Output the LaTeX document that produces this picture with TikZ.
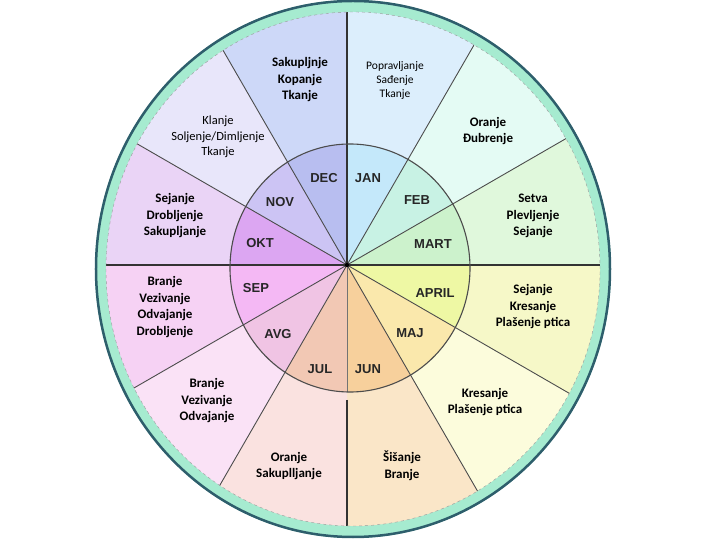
\documentclass[tikz,border=0pt]{standalone}
\usepackage{fontspec}
\newfontfamily\workfont{Carlito}
\newfontfamily\monthfont{Liberation Sans}

\definecolor{ringgreen}{HTML}{A6EBD0}
\definecolor{ringedge}{HTML}{2E5E6C}
% outer (work) wedges
\definecolor{janout}{HTML}{DCEEFC}
\definecolor{febout}{HTML}{E4FBF4}
\definecolor{martout}{HTML}{E0F8DC}
\definecolor{aprout}{HTML}{F6F8C8}
\definecolor{majout}{HTML}{FCFCDC}
\definecolor{junout}{HTML}{FAE6C8}
\definecolor{julout}{HTML}{FAE2E0}
\definecolor{avgout}{HTML}{FAE2F6}
\definecolor{sepout}{HTML}{F6D2F4}
\definecolor{oktout}{HTML}{EAD4F6}
\definecolor{novout}{HTML}{E8E6FA}
\definecolor{decout}{HTML}{CDD8F8}
% inner (month) wedges
\definecolor{janin}{HTML}{C4E8FA}
\definecolor{febin}{HTML}{C8F2E4}
\definecolor{martin}{HTML}{CCF2CC}
\definecolor{aprin}{HTML}{EEF8A4}
\definecolor{majin}{HTML}{FAE8AC}
\definecolor{junin}{HTML}{F7D09C}
\definecolor{julin}{HTML}{F2C8B4}
\definecolor{avgin}{HTML}{F0C4E4}
\definecolor{sepin}{HTML}{F4B8F4}
\definecolor{oktin}{HTML}{DCA6F2}
\definecolor{novin}{HTML}{CCC4F4}
\definecolor{decin}{HTML}{B8BEF0}

\tikzset{
  month/.style={font=\monthfont\bfseries\fontsize{13}{15}\selectfont, text=black!85},
  work/.style={align=center, font=\workfont\bfseries\fontsize{13}{16.5}\selectfont},
  worklight/.style={align=center, font=\workfont\fontsize{12.5}{15.5}\selectfont},
  ray/.style={draw=black!70, line width=0.9pt},
  axis/.style={draw=black!80, line width=1.4pt},
}

\begin{document}
\begin{tikzpicture}[x=1pt,y=1pt]
    \useasboundingbox (-347,-275) rectangle (373,265);

    % Ring
    \fill[ringgreen] (6,-4) ellipse [x radius=258, y radius=269];
    \draw[ringedge, line width=2.5pt] (6,-4) ellipse [x radius=257, y radius=268];

    \begin{scope}
        \clip (6,-4) ellipse [x radius=247, y radius=257];
        % Outer wedges
        \foreach \a/\col in {60/janout, 30/febout, 0/martout, -30/aprout,
                             -60/majout, -90/junout, -120/julout, -150/avgout,
                             180/sepout, 150/oktout, 120/novout, 90/decout}
            \fill[\col] (0,0) -- (\a:420) arc[start angle=\a, end angle=\a+30, radius=420] -- cycle;

        % Inner wedges
        \begin{scope}
            \clip (3,-3) ellipse [x radius=120, y radius=124];
            \foreach \a/\col in {60/janin, 30/febin, 0/martin, -30/aprin,
                                 -60/majin, -90/junin, -120/julin, -150/avgin,
                                 180/sepin, 150/oktin, 120/novin, 90/decin}
                \fill[\col] (0,0) -- (\a:420) arc[start angle=\a, end angle=\a+30, radius=420] -- cycle;
        \end{scope}

        % Dividing lines
        \foreach \a in {30,60,120,150,210,240,300,330}
            \draw[ray] (0,0) -- (\a:320);
        \draw[axis] (-320,0) -- (320,0);
        \draw[axis] (0,0) -- (0,320);
        \draw[axis] (0,-135) -- (0,-320);
        \draw[black!55, line width=0.8pt] (0,0) -- (0,-127);
    \end{scope}

    \draw[black!40, dashed, thin] (6,-4) ellipse [x radius=247, y radius=257];
    \draw[black!70, line width=1.1pt] (3,-3) ellipse [x radius=120, y radius=124];
    \fill[black] (0,0) circle (2.2pt);

    % Months
    \node[month] (dec) at (-23,87) {DEC};
    \node[month] (jan) at (21,87) {JAN};
    \node[month] (feb) at (70,65) {FEB};
    \node[month] (nov) at (-67,63) {NOV};
    \node[month] (okt) at (-87,22) {OKT};
    \node[month] (mart) at (86,21) {MART};
    \node[month] (sep) at (-91,-23) {SEP};
    \node[month] (april) at (88,-28) {APRIL};
    \node[month] (avg) at (-69,-69) {AVG};
    \node[month] (maj) at (63,-68) {MAJ};
    \node[month] (jul) at (-27,-104) {JUL};
    \node[month] (jun) at (21,-104) {JUN};

    % Work in each month
    \node[work] (wdec) at (-47,185) {Sakupljnje\\Kopanje\\Tkanje};
    \node[worklight, font=\workfont\fontsize{11.5}{14}\selectfont] (wjan) at (48,185) {Popravljanje\\Sađenje\\Tkanje};
    \node[work] (wfeb) at (141,134) {Oranje\\Đubrenje};
    \node[worklight] (wnov) at (-129,128) {Klanje\\Soljenje/Dimljenje\\Tkanje};
    \node[work] (wokt) at (-172,49) {Sejanje\\Drobljenje\\Sakupljanje};
    \node[work] (wmart) at (186,49) {Setva\\Plevljenje\\Sejanje};
    \node[work] (wsep) at (-182,-42) {Branje\\Vezivanje\\Odvajanje\\Drobljenje};
    \node[work] (wapril) at (186,-42) {Sejanje\\Kresanje\\Plašenje ptica};
    \node[work] (wavg) at (-140,-136) {Branje\\Vezivanje\\Odvajanje};
    \node[work] (wmaj) at (138,-137) {Kresanje\\Plašenje ptica};
    \node[work] (wjul) at (-58,-201) {Oranje\\Sakuplljanje};
    \node[work] (wjun) at (55,-201) {Šišanje\\Branje};
\end{tikzpicture}
\end{document}
